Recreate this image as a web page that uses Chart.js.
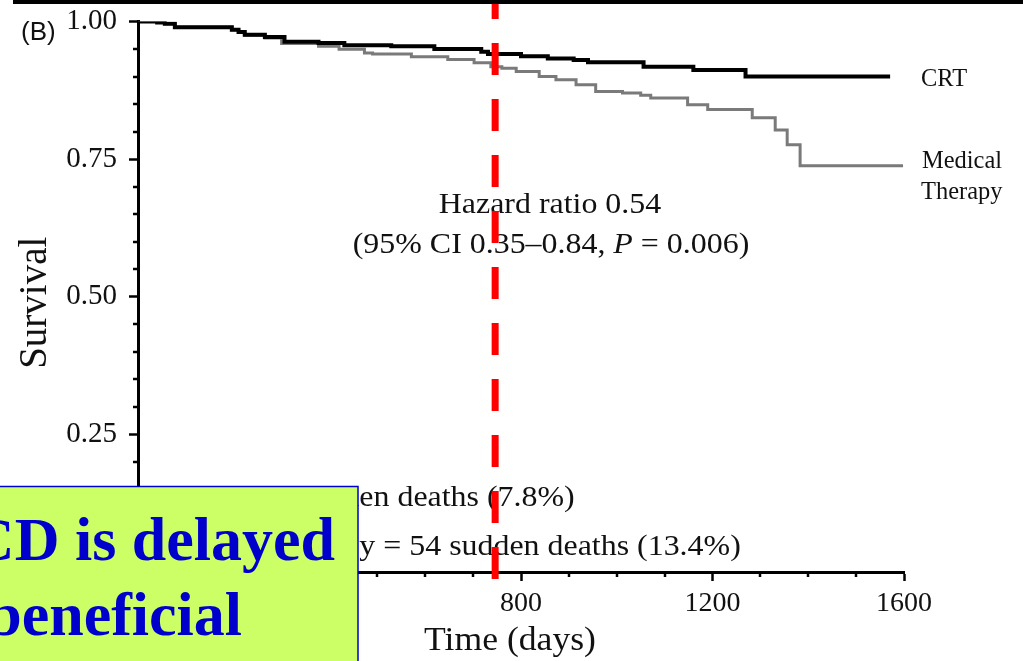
<!DOCTYPE html>
<html>
<head>
<meta charset="utf-8">
<script src="https://cdn.jsdelivr.net/npm/chart.js@4.4.1/dist/chart.umd.min.js"></script>
<style>
  html, body { margin: 0; padding: 0; background: #ffffff; }
  #wrap { width: 1023px; height: 661px; position: relative; overflow: hidden; }
  canvas { display: block; }
</style>
</head>
<body>
<div id="wrap"><canvas id="c" width="1023" height="661"></canvas></div>
<script>
// ---- Data (Kaplan-Meier step curves) ----
const crtDays     = [0, 40, 56, 77, 196, 210, 223, 265, 306, 377, 431, 529, 619, 717, 731, 800, 856, 910, 940, 1056, 1160, 1269, 1571];
const crtSurvival = [1.0, 0.998, 0.996, 0.9895, 0.985, 0.981, 0.976, 0.972, 0.963, 0.961, 0.957, 0.955, 0.950, 0.945, 0.941, 0.937, 0.933, 0.930, 0.926, 0.918, 0.912, 0.900, 0.900];

const medDays     = [0, 40, 56, 77, 196, 210, 223, 265, 300, 377, 420, 473, 490, 571, 647, 702, 737, 760, 790, 838, 873, 915, 956, 1012, 1050, 1071, 1148, 1190, 1283, 1331, 1356, 1383, 1598];
const medSurvival = [1.0, 0.998, 0.996, 0.9895, 0.985, 0.980, 0.975, 0.970, 0.960, 0.955, 0.9495, 0.943, 0.941, 0.936, 0.931, 0.925, 0.918, 0.915, 0.909, 0.900, 0.894, 0.885, 0.873, 0.870, 0.866, 0.861, 0.849, 0.840, 0.825, 0.803, 0.776, 0.738, 0.738];

const xTickValues = [0, 400, 800, 1200, 1600];
const yTickValues = [0, 0.25, 0.50, 0.75, 1.00];
const xMinorStep = 100;
const yMinorStep = 0.05;
const dividerDay = 746;

const seriesNames = ['CRT', 'Medical Therapy'];
const hazardText = 'Hazard ratio 0.54';
const ciText = ['(95% CI 0.35\u20130.84, ', 'P', ' = 0.006)'];
const deathLines = ['CRT = 32 sudden deaths (7.8%)', 'Medical therapy = 54 sudden deaths (13.4%)'];
const boxLines = ['CD is delayed', 'beneficial'];

const SERIF = "'Liberation Serif', 'Times New Roman', serif";

function toPoints(xs, ys) { return xs.map((d, i) => ({ x: d, y: ys[i] })); }

function drawText(ctx, s, x, y, font, align, sx, color) {
  ctx.save();
  ctx.font = font;
  ctx.fillStyle = color || '#111';
  ctx.textBaseline = 'alphabetic';
  ctx.textAlign = 'left';
  const w = ctx.measureText(s).width * sx;
  const x0 = align === 'center' ? x - w / 2 : (align === 'right' ? x - w : x);
  ctx.translate(x0, y);
  ctx.scale(sx, 1);
  ctx.fillText(s, 0, 0);
  ctx.restore();
  return w;
}

const overlay = {
  id: 'overlay',
  afterDraw(chart) {
    const ctx = chart.ctx;
    const xs = chart.scales.x, ys = chart.scales.y;
    const area = chart.chartArea;

    // minor ticks
    ctx.save();
    ctx.strokeStyle = '#000';
    ctx.lineWidth = 2.5;
    for (let v = xMinorStep; v < 1600; v += xMinorStep) {
      if (xTickValues.includes(v)) continue;
      const px = Math.round(xs.getPixelForValue(v));
      ctx.beginPath(); ctx.moveTo(px, area.bottom); ctx.lineTo(px, area.bottom + 5); ctx.stroke();
    }
    for (let k = 1; k < 20; k++) {
      const v = k * yMinorStep;
      if (k % 5 === 0) continue;
      const py = Math.round(ys.getPixelForValue(v));
      ctx.beginPath(); ctx.moveTo(area.left, py); ctx.lineTo(area.left - 5, py); ctx.stroke();
    }
    ctx.restore();

    // panel letter
    drawText(ctx, '(B)', 21, 40, "26px 'Liberation Sans', Arial, sans-serif", 'left', 1.0, '#111');

    // series labels
    drawText(ctx, seriesNames[0], 921, 86, '26px ' + SERIF, 'left', 0.94, '#111');
    drawText(ctx, 'Medical', 922, 168, '26px ' + SERIF, 'left', 0.94, '#111');
    drawText(ctx, 'Therapy', 921, 199, '26px ' + SERIF, 'left', 0.94, '#111');

    // hazard ratio
    drawText(ctx, hazardText, 550, 213, '28.5px ' + SERIF, 'center', 1.12, '#111');
    ctx.save();
    const fN = '28.5px ' + SERIF, fI = 'italic 28.5px ' + SERIF, sx = 1.12;
    ctx.font = fN; const w1 = ctx.measureText(ciText[0]).width * sx;
    ctx.font = fI; const w2 = ctx.measureText(ciText[1]).width * sx;
    ctx.font = fN; const w3 = ctx.measureText(ciText[2]).width * sx;
    ctx.restore();
    let cx = 551 - (w1 + w2 + w3) / 2;
    drawText(ctx, ciText[0], cx, 253, fN, 'left', sx, '#111'); cx += w1;
    drawText(ctx, ciText[1], cx, 253, fI, 'left', sx, '#111'); cx += w2;
    drawText(ctx, ciText[2], cx, 253, fN, 'left', sx, '#111');

    // sudden deaths
    drawText(ctx, deathLines[0], 165, 506, '28.5px ' + SERIF, 'left', 1.12, '#111');
    drawText(ctx, deathLines[1], 167, 555, '28.5px ' + SERIF, 'left', 1.12, '#111');

    // axis titles
    ctx.save();
    ctx.translate(36, ys.getPixelForValue(0.5) + 6);
    ctx.rotate(-Math.PI / 2);
    ctx.font = '39px ' + SERIF;
    ctx.fillStyle = '#111';
    ctx.textAlign = 'center';
    ctx.textBaseline = 'middle';
    ctx.fillText('Survival', 0, 0);
    ctx.restore();
    drawText(ctx, 'Time (days)', 510, 650, '33px ' + SERIF, 'center', 1.08, '#111');

    // red dashed divider
    const dx = xs.getPixelForValue(dividerDay);
    ctx.save();
    ctx.strokeStyle = '#ff0000';
    ctx.lineWidth = 7;
    ctx.setLineDash([32, 24]);
    ctx.lineDashOffset = 13;
    ctx.beginPath(); ctx.moveTo(dx, 0); ctx.lineTo(dx, area.bottom + 8); ctx.stroke();
    ctx.restore();

    // top black bar
    ctx.save();
    ctx.fillStyle = '#000';
    ctx.fillRect(13, 0, 1010, 4);
    ctx.restore();

    // green callout box
    ctx.save();
    ctx.fillStyle = '#ccff66';
    ctx.fillRect(-2, 486, 360, 180);
    ctx.strokeStyle = '#0000cc';
    ctx.lineWidth = 1.5;
    ctx.strokeRect(-2, 486.5, 360, 180);
    ctx.restore();
    drawText(ctx, boxLines[0], 335, 560, 'bold 62px ' + SERIF, 'right', 1.0, '#0000cc');
    drawText(ctx, boxLines[1], 242, 635, 'bold 62px ' + SERIF, 'right', 1.0, '#0000cc');
  }
};

Chart.defaults.font.family = SERIF;

new Chart(document.getElementById('c'), {
  type: 'line',
  data: {
    datasets: [
      {
        label: seriesNames[0],
        data: toPoints(crtDays, crtSurvival),
        borderColor: '#000000',
        borderWidth: 4,
        stepped: 'before',
        pointRadius: 0,
        fill: false
      },
      {
        label: seriesNames[1],
        data: toPoints(medDays, medSurvival),
        borderColor: '#7a7a7a',
        borderWidth: 3,
        stepped: 'before',
        pointRadius: 0,
        fill: false
      }
    ]
  },
  options: {
    responsive: false,
    animation: false,
    devicePixelRatio: 1,
    layout: { padding: { top: 21.5, right: 119, left: 0, bottom: 0 } },
    plugins: { legend: { display: false }, tooltip: { enabled: false } },
    scales: {
      x: {
        type: 'linear',
        min: 0, max: 1600,
        afterBuildTicks: s => { s.ticks = xTickValues.map(v => ({ value: v })); },
        afterFit: s => { s.height = 89; s.paddingLeft = 0; s.paddingRight = 0; },
        ticks: { font: { size: 28 }, color: '#111', padding: 6, maxRotation: 0, autoSkip: false, callback: v => String(v) },
        grid: { drawOnChartArea: false, drawTicks: true, tickLength: 9, tickWidth: 2.5, tickColor: '#000' },
        border: { display: true, color: '#000', width: 3 }
      },
      y: {
        type: 'linear',
        min: 0, max: 1,
        afterBuildTicks: s => { s.ticks = yTickValues.map(v => ({ value: v })); },
        afterFit: s => { s.width = 138; s.paddingTop = 0; s.paddingBottom = 0; },
        ticks: { font: { size: 29 }, color: '#111', padding: 12, callback: v => Number(v).toFixed(2) },
        grid: { drawOnChartArea: false, drawTicks: true, tickLength: 9, tickWidth: 2.5, tickColor: '#000' },
        border: { display: true, color: '#000', width: 3 }
      }
    }
  },
  plugins: [overlay]
});
</script>
</body>
</html>
